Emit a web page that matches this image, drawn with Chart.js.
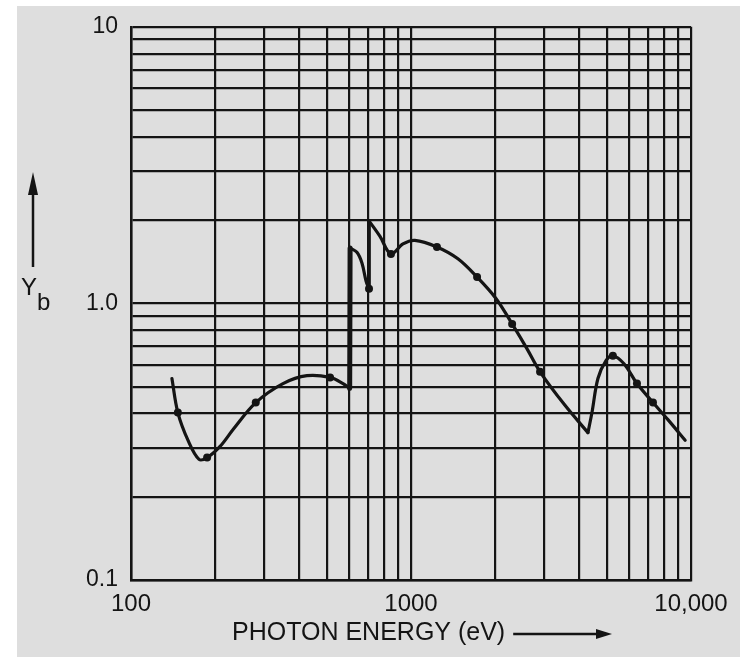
<!DOCTYPE html>
<html><head><meta charset="utf-8">
<script src="https://cdn.jsdelivr.net/npm/chart.js@4"></script>
<style>html,body{margin:0;padding:0;background:#fff}canvas{display:block}</style>
</head><body>
<canvas id="c" width="740" height="657"></canvas>
<script>
// Photon energy (eV) and secondary yield Yb
const energy = [140, 147, 160, 175, 187, 208, 233, 279, 349, 425, 514, 572, 604,
                606, 641, 668, 691, 708,
                710, 774, 848, 936, 1032, 1238, 1471, 1722, 2014, 2297, 2597, 2890, 3548, 4285,
                4429, 4652, 4970, 5260, 5763, 6412, 7315, 8271, 9530];
const yieldB = [0.535, 0.403, 0.319, 0.273, 0.277, 0.304, 0.353, 0.438, 0.513, 0.548, 0.540, 0.513, 0.492,
                1.585, 1.53, 1.40, 1.205, 1.127,
                1.98, 1.75, 1.51, 1.64, 1.69, 1.60, 1.45, 1.245, 1.04, 0.843, 0.685, 0.566, 0.428, 0.341,
                0.403, 0.535, 0.621, 0.647, 0.605, 0.513, 0.438, 0.38, 0.32];
const jumpAfter = [12, 17];   // absorption edges: vertical rise after these points
const jumpWidth = [5, 3];     // stroke width of each edge as drawn in the figure
const cuspAt = [31];          // sharp minimum before the edge near 4.3 keV

// Measured points marked on the curve
const markerEnergy = [147, 187, 279, 514, 708, 848, 1238, 1722, 2297, 2890, 5260, 6412, 7315];
const markerYield  = [0.403, 0.277, 0.438, 0.540, 1.13, 1.51, 1.60, 1.245, 0.843, 0.566, 0.647, 0.513, 0.438];

const xGridValues = [100, 200, 300, 400, 500, 600, 700, 800, 900,
                     1000, 2000, 3000, 4000, 5000, 6000, 7000, 8000, 9000, 10000];
const yGridValues = [0.1, 0.2, 0.3, 0.4, 0.5, 0.6, 0.7, 0.8, 0.9,
                     1, 2, 3, 4, 5, 6, 7, 8, 9, 10];
const xTickLabels = {100: '100', 1000: '1000', 10000: '10,000'};
const yTickLabels = {0.1: '0.1', 1: '1.0', 10: '10'};
const xTitle = 'PHOTON ENERGY (eV)';
const yTitleMain = 'Y';
const yTitleSub = 'b';

const INK = '#141414';
const PAPER = '#dedede';
const FONT = '"Liberation Sans", Arial, sans-serif';

// Build curve segments (smooth pieces joined by straight vertical edges)
const cuts = [...jumpAfter.map((i, k) => ({i, jump: true, w: jumpWidth[k]})),
              ...cuspAt.map(i => ({i, jump: false}))].sort((a, b) => a.i - b.i);
const pts = (a, b) => energy.slice(a, b + 1).map((e, k) => ({x: e, y: yieldB[a + k]}));
const datasets = [];
let start = 0;
for (const c of cuts) {
  datasets.push({data: pts(start, c.i), tension: 0.35, borderWidth: 3.2});
  if (c.jump) { datasets.push({data: pts(c.i, c.i + 1), tension: 0, borderWidth: c.w}); start = c.i + 1; }
  else start = c.i;
}
datasets.push({data: pts(start, energy.length - 1), tension: 0.35, borderWidth: 3.2});
datasets.forEach(d => Object.assign(d, {
  showLine: true, borderColor: INK, pointRadius: 0,
  borderCapStyle: 'round', borderJoinStyle: 'round', fill: false
}));
datasets.push({
  data: markerEnergy.map((e, i) => ({x: e, y: markerYield[i]})),
  showLine: false, pointRadius: 4, pointBackgroundColor: INK, pointBorderColor: INK, pointBorderWidth: 0
});

const bgPlugin = {
  id: 'paper',
  beforeDraw(chart) {
    const ctx = chart.ctx;
    ctx.save();
    ctx.fillStyle = '#ffffff';
    ctx.fillRect(0, 0, chart.width, chart.height);
    ctx.fillStyle = PAPER;
    ctx.fillRect(17, 6, chart.width - 17, chart.height - 6);
    ctx.restore();
  }
};

const titlePlugin = {
  id: 'titles',
  afterDraw(chart) {
    const ctx = chart.ctx;
    ctx.save();
    ctx.fillStyle = INK; ctx.strokeStyle = INK;
    // x title
    ctx.font = '25px ' + FONT;
    ctx.textBaseline = 'middle';
    ctx.textAlign = 'left';
    ctx.fillText(xTitle, 232, 633);
    const w = ctx.measureText(xTitle).width;
    const ax0 = 232 + w + 8, ax1 = 612;
    ctx.lineWidth = 2.5;
    ctx.beginPath(); ctx.moveTo(ax0, 634); ctx.lineTo(ax1 - 12, 634); ctx.stroke();
    ctx.beginPath(); ctx.moveTo(ax1, 634); ctx.lineTo(ax1 - 16, 629); ctx.lineTo(ax1 - 16, 639); ctx.closePath(); ctx.fill();
    // y title arrow
    ctx.lineWidth = 2.5;
    ctx.beginPath(); ctx.moveTo(33, 267); ctx.lineTo(33, 190); ctx.stroke();
    ctx.beginPath(); ctx.moveTo(33, 172); ctx.lineTo(28, 195); ctx.lineTo(38, 195); ctx.closePath(); ctx.fill();
    // Y_b
    ctx.font = '24px ' + FONT;
    ctx.textAlign = 'left';
    ctx.textBaseline = 'alphabetic';
    ctx.fillText(yTitleMain, 21, 295);
    ctx.fillText(yTitleSub, 37, 310);
    ctx.restore();
  }
};

new Chart(document.getElementById('c'), {
  type: 'scatter',
  data: {datasets},
  options: {
    responsive: false,
    animation: false,
    layout: {padding: {top: 25, right: 49, left: 0, bottom: 0}},
    plugins: {legend: {display: false}, tooltip: {enabled: false}},
    scales: {
      x: {
        type: 'logarithmic', min: 100, max: 10000,
        afterBuildTicks: s => { s.ticks = xGridValues.map(v => ({value: v})); },
        afterFit: s => { s.height = 77; },
        ticks: {autoSkip: false, maxRotation: 0, minRotation: 0, padding: 10, color: INK,
                font: {family: FONT, size: 24},
                callback: v => xTickLabels[v] ?? ''},
        grid: {color: INK, lineWidth: 2.2, drawTicks: false},
        border: {color: INK, width: 2.5}
      },
      y: {
        type: 'logarithmic', min: 0.1, max: 10,
        afterBuildTicks: s => { s.ticks = yGridValues.map(v => ({value: v})); },
        afterFit: s => { s.width = 131; },
        ticks: {autoSkip: false, padding: 13, color: INK,
                font: {family: FONT, size: 23},
                callback: v => yTickLabels[v] ?? ''},
        grid: {color: INK, lineWidth: 2.2, drawTicks: false},
        border: {color: INK, width: 2.5}
      }
    }
  },
  plugins: [bgPlugin, titlePlugin]
});
</script>
</body></html>
